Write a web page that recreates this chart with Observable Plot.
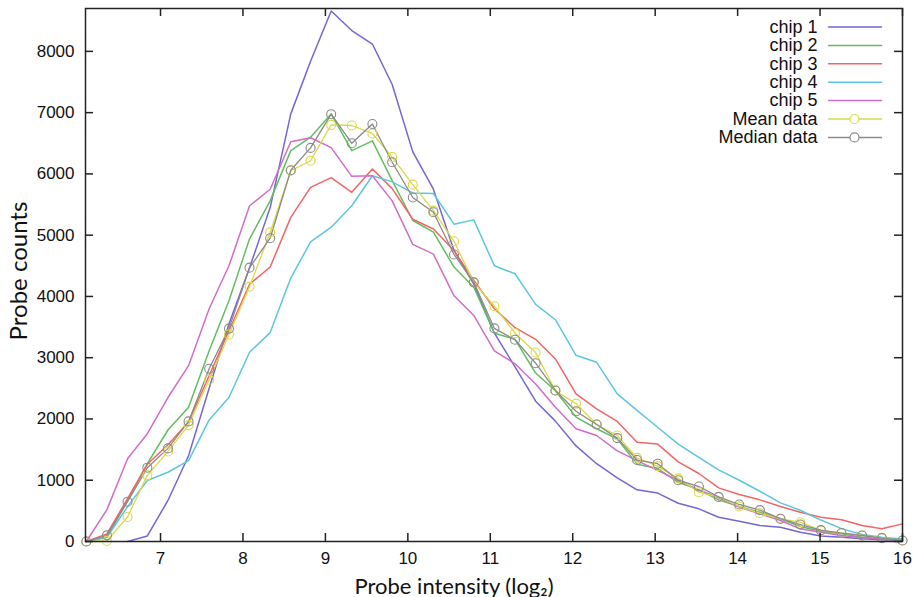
<!DOCTYPE html>
<html><head><meta charset="utf-8">
<script src="https://cdn.jsdelivr.net/npm/d3@7"></script>
<script src="https://cdn.jsdelivr.net/npm/@observablehq/plot@0.6"></script>
<style>body{margin:0;background:#fff}</style>
</head><body><div id="chart"></div>
<script>
const xValues = [6.10, 6.35, 6.60, 6.84, 7.09, 7.34, 7.59, 7.83, 8.08, 8.33, 8.58, 8.82, 9.07, 9.32, 9.57, 9.81, 10.06, 10.31, 10.56, 10.80, 11.05, 11.30, 11.55, 11.79, 12.04, 12.29, 12.54, 12.78, 13.03, 13.28, 13.53, 13.77, 14.02, 14.27, 14.52, 14.76, 15.01, 15.26, 15.51, 15.75, 16.00];
const chip1 = [null, null, 0, 90, 670, 1400, 2500, 3550, 4470, 5450, 6980, 7840, 8660, 8340, 8120, 7460, 6360, 5750, 4750, 4200, 3400, 2850, 2290, 1965, 1560, 1270, 1040, 843, 790, 625, 533, 396, 331, 261, 233, 152, 90, 70, 44, 28, 16];
const chip2 = [0, 70, 670, 1270, 1820, 2190, 3115, 3930, 4940, 5560, 6380, 6600, 6980, 6380, 6540, 5890, 5240, 5050, 4480, 4150, 3400, 3300, 2750, 2460, 2030, 1840, 1675, 1260, 1190, 967, 843, 680, 571, 478, 370, 245, 168, 125, 70, 44, 16];
const chip3 = [0, 125, 700, 1260, 1580, 1950, 2710, 3440, 4200, 4480, 5290, 5780, 5940, 5700, 6080, 5760, 5260, 5100, 4750, 4260, 3800, 3490, 3300, 2980, 2410, 2165, 1960, 1620, 1590, 1300, 1110, 875, 767, 680, 571, 478, 397, 354, 261, 207, 288];
const chip4 = [0, 70, 570, 995, 1130, 1320, 1985, 2350, 3090, 3410, 4300, 4890, 5130, 5480, 5970, 5870, 5690, 5680, 5180, 5250, 4500, 4370, 3870, 3620, 3040, 2925, 2410, 2140, 1865, 1590, 1375, 1170, 1000, 820, 630, 510, 350, 210, 115, 70, 40];
const chip5 = [0, 520, 1350, 1760, 2350, 2870, 3800, 4500, 5480, 5750, 6525, 6590, 6430, 5960, 5970, 5560, 4850, 4690, 4010, 3690, 3110, 2900, 2570, 2190, 1840, 1730, 1480, 1320, 1160, 995, 843, 713, 560, 451, 343, 207, 152, 98, 60, 44, 16];
const meanData = [0, 10, 400, 1080, 1470, 1900, 2640, 3380, 4160, 5045, 6052, 6215, 6800, 6790, 6660, 6275, 5825, 5400, 4900, 4230, 3840, 3400, 3085, 2460, 2250, 1910, 1730, 1365, 1230, 1030, 805, 723, 571, 462, 370, 315, 180, 136, 98, 60, 16];
const medianData = [0, 100, 650, 1205, 1520, 1960, 2820, 3475, 4470, 4950, 6060, 6425, 6975, 6500, 6815, 6190, 5615, 5375, 4685, 4230, 3478, 3293, 2910, 2465, 2125, 1909, 1688, 1330, 1270, 1000, 897, 728, 604, 512, 372, 277, 185, 138, 98, 55, 16];

const seriesNames = ["chip 1", "chip 2", "chip 3", "chip 4", "chip 5", "Mean data", "Median data"];
const seriesValues = [chip1, chip2, chip3, chip4, chip5, meanData, medianData];
const seriesColors = ["#7467d2", "#62bd62", "#f26565", "#5cc6e0", "#d36cc9", "#dcd84a", "#8a8a8a"];
const xTicks = [7, 8, 9, 10, 11, 12, 13, 14, 15, 16];
const yTicks = [0, 1000, 2000, 3000, 4000, 5000, 6000, 7000, 8000];
const xTitle = "Probe intensity (log\u2082)";
const yTitle = "Probe counts";

const rows = [];
seriesNames.forEach((name, s) => {
  seriesValues[s].forEach((v, i) => {
    if (v !== null) rows.push({series: name, x: xValues[i], y: v});
  });
});
const markerSeries = ["Mean data", "Median data"];
const chipRows = rows.filter(d => !markerSeries.includes(d.series));

const W = 914, H = 597, mL = 85, mR = 12, mT = 8, mB = 56;
const innerW = W - mL - mR, innerH = H - mT - mB;

const segment = {draw(context, l) { context.moveTo(0, 0); context.lineTo(0, -l); }};
const legendMarks = [];
seriesNames.forEach((name, i) => {
  const dy = 18.5 + i * 18.4;
  legendMarks.push(Plot.text([name], {text: d => d, frameAnchor: "top-right", dx: -85, dy, textAnchor: "end", lineAnchor: "middle", fontSize: 18, fill: "#111"}));
  legendMarks.push(Plot.vector([name], {frameAnchor: "top-right", dx: -74, dy, length: 53, rotate: 90, anchor: "start", shape: segment, stroke: seriesColors[i], strokeWidth: 1.5}));
  if (markerSeries.includes(name)) {
    legendMarks.push(Plot.dot([name], {frameAnchor: "top-right", dx: -48, dy, r: 4.5, stroke: seriesColors[i], fill: "white", strokeWidth: 1.2}));
  }
});

const chart = Plot.plot({
  width: W, height: H,
  marginLeft: mL, marginRight: mR, marginTop: mT, marginBottom: mB,
  style: {fontFamily: "'Liberation Sans', Arial, sans-serif", fontSize: "17px", color: "#111", background: "white"},
  x: {domain: [6.09, 16]},
  y: {domain: [0, 8700]},
  color: {domain: seriesNames, range: seriesColors},
  marks: [
    Plot.line(chipRows, {x: "x", y: "y", z: "series", stroke: "series", strokeWidth: 1.5}),
    ...markerSeries.map(name => Plot.line(rows.filter(d => d.series === name), {x: "x", y: "y", stroke: "series", strokeWidth: 1.3})),
    ...markerSeries.map(name => Plot.dot(rows.filter(d => d.series === name), {x: "x", y: "y", stroke: "series", r: 4.5, strokeWidth: 1.1})),
    Plot.axisX(xTicks, {tickSize: 0, tickPadding: 10, label: null, fontSize: 17, tickFormat: d => String(d)}),
    Plot.axisY(yTicks, {tickSize: 0, tickPadding: 11, label: null, fontSize: 17, tickFormat: d => String(d)}),
    Plot.tickX(xTicks, {x: d => d, insetTop: innerH - 8, stroke: "#222", strokeWidth: 1.5}),
    Plot.tickX(xTicks, {x: d => d, insetBottom: innerH - 8, stroke: "#222", strokeWidth: 1.5}),
    Plot.tickY(yTicks, {y: d => d, insetRight: innerW - 8, stroke: "#222", strokeWidth: 1.5}),
    Plot.tickY(yTicks, {y: d => d, insetLeft: innerW - 8, stroke: "#222", strokeWidth: 1.5}),
    Plot.frame({stroke: "#222", strokeWidth: 1.5}),
    Plot.text([xTitle], {text: d => d, frameAnchor: "bottom", textAnchor: "middle", lineAnchor: "bottom", dx: -40, dy: 52, fontSize: 22, fontFamily: "Lato, 'Open Sans', sans-serif", fill: "#111"}),
    Plot.text([yTitle], {text: d => d, frameAnchor: "left", textAnchor: "middle", lineAnchor: "middle", dx: -66, dy: -4, rotate: -90, fontSize: 24, fontFamily: "Lato, 'Open Sans', sans-serif", fill: "#111"}),
    ...legendMarks
  ]
});
document.getElementById("chart").appendChild(chart);
</script>
</body></html>
